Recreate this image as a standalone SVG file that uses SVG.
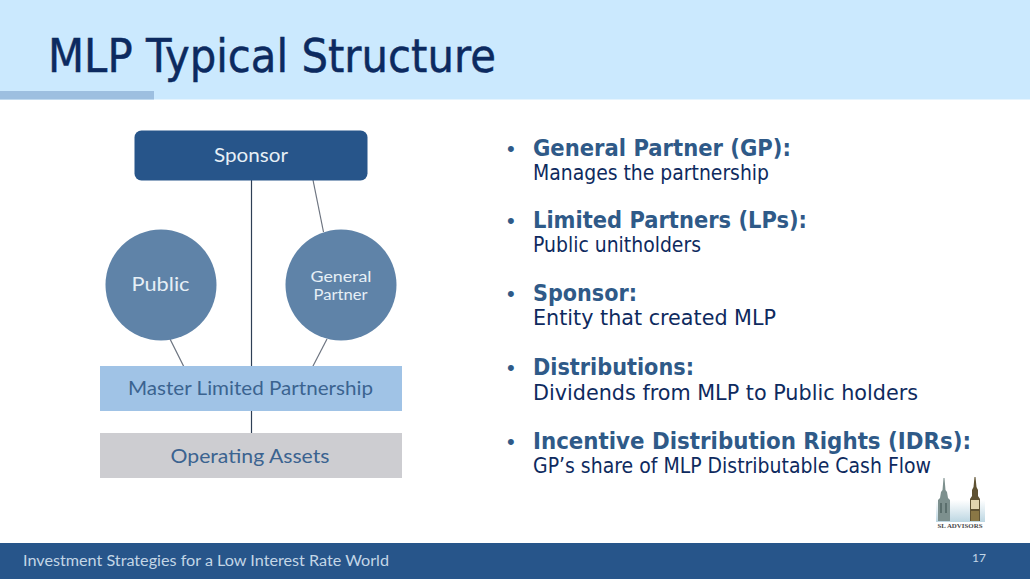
<svg xmlns="http://www.w3.org/2000/svg" width="1030" height="579" viewBox="0 0 1030 579">
<defs>
<linearGradient id="mist" x1="0" y1="0" x2="0" y2="1"><stop offset="0" stop-color="#ffffff"/><stop offset="1" stop-color="#bcd6e2"/></linearGradient>
</defs>
<style>
.dg{font-family:"Lato","Open Sans",sans-serif}
.title{font-family:"DejaVu Sans",sans-serif;font-size:47px;fill:#0c2a60;stroke:#0c2a60;stroke-width:0.5}
.h{font-family:"DejaVu Sans",sans-serif;font-weight:bold;font-size:23px;fill:#2f5a88}
.b{font-family:"DejaVu Sans",sans-serif;font-size:21.500px;fill:#0e2a5e}
.bul{font-family:"Liberation Sans",sans-serif;font-size:22px;fill:#2f5a88}
.w{fill:#e6eff6;text-anchor:middle}
.n{fill:#3b6390;text-anchor:middle}
.conn{stroke:#2e3f56;stroke-width:1.2;fill:none}
.conn2{stroke:#6d7480;stroke-width:1.2;fill:none}
</style>
<rect width="1030" height="579" fill="#ffffff"/>
<rect id="header" width="1030" height="99.500" fill="#cbe9fe"/>
<rect id="header-accent" x="0" y="91" width="154" height="8.500" fill="#9dbfe0"/>
<text class="title" x="48" y="72" textLength="448" lengthAdjust="spacingAndGlyphs">MLP Typical Structure</text>
<g id="connectors">
<line class="conn" x1="251.500" y1="180" x2="251.500" y2="367"/>
<line class="conn2" x1="313" y1="180" x2="323.500" y2="232"/>
<line class="conn2" x1="170" y1="339" x2="184" y2="367"/>
<line class="conn2" x1="327" y1="339" x2="312.500" y2="367"/>
<line class="conn" x1="251.500" y1="410" x2="251.500" y2="434"/>
</g>
<g id="sponsor">
<rect x="134.500" y="130.500" width="233" height="50" rx="7" fill="#27558a"/>
<text class="dg w" x="251" y="162" font-size="19" textLength="74" lengthAdjust="spacingAndGlyphs">Sponsor</text>
</g>
<g id="public">
<circle cx="161" cy="285" r="55.500" fill="#5f83a8"/>
<text class="dg w" x="160.500" y="291" font-size="19" textLength="58" lengthAdjust="spacingAndGlyphs">Public</text>
</g>
<g id="general-partner">
<circle cx="341" cy="285" r="55.500" fill="#5f83a8"/>
<text class="dg w" x="341" y="281.500" font-size="15.500" textLength="61" lengthAdjust="spacingAndGlyphs">General</text>
<text class="dg w" x="340.500" y="300" font-size="15.500" textLength="54" lengthAdjust="spacingAndGlyphs">Partner</text>
</g>
<g id="mlp">
<rect x="100" y="366" width="302" height="45" fill="#a0c3e6"/>
<text class="dg n" x="250.500" y="395" font-size="19" textLength="245" lengthAdjust="spacingAndGlyphs">Master Limited Partnership</text>
</g>
<g id="operating-assets">
<rect x="100" y="433" width="302" height="45" fill="#cdcdd1"/>
<text class="dg n" x="250" y="463" font-size="19" textLength="159" lengthAdjust="spacingAndGlyphs">Operating Assets</text>
</g>
<g id="bullets">
<text class="bul" x="507" y="156">•</text>
<text class="h" x="533" y="156" textLength="258" lengthAdjust="spacingAndGlyphs">General Partner (GP):</text>
<text class="b" x="533" y="180" textLength="236" lengthAdjust="spacingAndGlyphs">Manages the partnership</text>
<text class="bul" x="507" y="228">•</text>
<text class="h" x="533" y="228" textLength="274" lengthAdjust="spacingAndGlyphs">Limited Partners (LPs):</text>
<text class="b" x="533" y="252" textLength="168" lengthAdjust="spacingAndGlyphs">Public unitholders</text>
<text class="bul" x="507" y="301">•</text>
<text class="h" x="533" y="301" textLength="104" lengthAdjust="spacingAndGlyphs">Sponsor:</text>
<text class="b" x="533" y="325" textLength="243" lengthAdjust="spacingAndGlyphs">Entity that created MLP</text>
<text class="bul" x="507" y="375">•</text>
<text class="h" x="533" y="375" textLength="161" lengthAdjust="spacingAndGlyphs">Distributions:</text>
<text class="b" x="533" y="400" textLength="385" lengthAdjust="spacingAndGlyphs">Dividends from MLP to Public holders</text>
<text class="bul" x="507" y="449">•</text>
<text class="h" x="533" y="449" textLength="438" lengthAdjust="spacingAndGlyphs">Incentive Distribution Rights (IDRs):</text>
<text class="b" x="533" y="473" textLength="398" lengthAdjust="spacingAndGlyphs">GP’s share of MLP Distributable Cash Flow</text>
</g>
<g id="logo">
<rect x="936" y="500" width="49" height="22" fill="url(#mist)"/>
<polygon points="943.500,478 944.500,478 945.500,490 947,492 948,498 950,500 950,521 938,521 938,500 940,498 941,492 942.500,490" fill="#7d908e"/>
<rect x="940" y="503" width="2" height="10" fill="#5a6e6c"/>
<rect x="945" y="503" width="2" height="10" fill="#5a6e6c"/>
<polygon points="974.500,477 975.500,477 976.500,487 978,490 978,496 980,499 980,521 970,521 970,499 972,496 972,490 973.500,487" fill="#5f5232"/>
<rect x="971" y="500" width="8" height="9" fill="#e2d5ae"/>
<rect x="971" y="511" width="8" height="10" fill="#8a7745"/>
<text x="960" y="528" text-anchor="middle" font-family="Liberation Serif, serif" font-weight="bold" font-size="6" fill="#4a4a4a" textLength="45" lengthAdjust="spacingAndGlyphs">SL ADVISORS</text>
</g>
<rect id="footer" x="0" y="543" width="1030" height="36" fill="#27558a"/>
<text x="23" y="566" font-family="Lato, 'Open Sans', sans-serif" font-size="15.500" fill="#c3d6e6" textLength="366" lengthAdjust="spacingAndGlyphs">Investment Strategies for a Low Interest Rate World</text>
<text x="979" y="562" text-anchor="middle" font-family="Lato, 'Open Sans', sans-serif" font-size="12" fill="#c3d6e6">17</text>
</svg>
